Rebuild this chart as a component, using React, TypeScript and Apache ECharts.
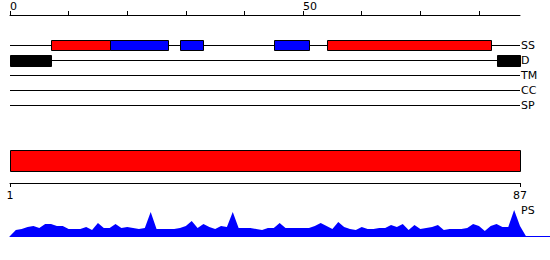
import React, { useEffect, useRef } from "react";
import * as echarts from "echarts";

const seqLength = 87;
const trackNames = ["SS", "D", "TM", "CC", "SP"];
const helixRanges = [[7, 17], [54, 82]];
const strandRanges = [[17, 27], [29, 33], [45, 51]];
const disorderRanges = [[0, 7], [83, 87]];
const topTickValues = [0, 10, 20, 30, 40, 50, 60, 70, 80];
const topLabelValues = [0, 50];
const bottomLabelValues = [1, 87];
const psScores = [
  0, 6, 7, 9, 10, 8, 12, 12, 10, 10, 7, 7, 7, 9, 6, 13, 8, 8, 12, 8,
  9, 8, 7, 8, 24, 7, 7, 7, 7, 8, 10, 15, 8, 12, 9, 7, 10, 9, 24, 8,
  8, 8, 7, 6, 8, 8, 13, 8, 8, 8, 8, 8, 10, 13, 10, 7, 14, 9, 7, 6,
  9, 7, 7, 8, 8, 11, 9, 12, 6, 11, 7, 8, 9, 11, 6, 7, 7, 7, 8, 12,
  10, 5, 10, 12, 9, 9, 26, 10, 0,
];

const FONT = "DejaVu Sans";
const RED = "#ff0000";
const BLUE = "#0000ff";

export default function App() {
  const ref = useRef<HTMLDivElement>(null);
  useEffect(() => {
    if (!ref.current) return;
    const chart = echarts.init(ref.current, undefined, { renderer: "svg" });

    const featureData: any[] = [];
    helixRanges.forEach(([a, b]) => featureData.push({ value: [a, b, 0, 0], itemStyle: { color: RED } }));
    strandRanges.forEach(([a, b]) => featureData.push({ value: [a, b, 0, 0], itemStyle: { color: BLUE } }));
    disorderRanges.forEach(([a, b]) => featureData.push({ value: [a, b, 1, 1], itemStyle: { color: "#000" } }));

    const trackLineData = trackNames.map((_, i) => [0, seqLength, i]);
    const psData = psScores.map((v, i) => [i, v]);
    const psMax = (540 * seqLength) / 510;

    const option: any = {
      animation: false,
      grid: [
        { left: 10, right: 30, top: 37.5, height: 75 },
        { left: 10, right: 30, top: 150, height: 33 },
        { left: 10, right: 0, top: 206, height: 30 },
      ],
      xAxis: [
        {
          gridIndex: 0,
          type: "value",
          min: 0,
          max: seqLength,
          position: "top",
          offset: 22.5,
          axisLine: { show: true, lineStyle: { color: "#000", width: 1 } },
          axisTick: { show: true, length: 4, customValues: topTickValues, lineStyle: { color: "#000" } },
          axisLabel: {
            show: true,
            customValues: topLabelValues,
            align: "left",
            margin: 3,
            fontFamily: FONT,
            fontSize: 11,
            color: "#000",
          },
          splitLine: { show: false },
        },
        {
          gridIndex: 1,
          type: "value",
          min: 1,
          max: seqLength,
          position: "bottom",
          axisLine: { show: true, lineStyle: { color: "#000", width: 1 } },
          axisTick: { show: true, length: 4, customValues: bottomLabelValues, lineStyle: { color: "#000" } },
          axisLabel: {
            show: true,
            customValues: bottomLabelValues,
            margin: 7,
            fontFamily: FONT,
            fontSize: 11,
            color: "#000",
          },
          splitLine: { show: false },
        },
        {
          gridIndex: 2,
          type: "value",
          min: 0,
          max: psMax,
          axisLine: { show: true, lineStyle: { color: BLUE, width: 1 } },
          axisTick: { show: false },
          axisLabel: { show: false },
          splitLine: { show: false },
        },
      ],
      yAxis: [
        {
          gridIndex: 0,
          type: "category",
          data: trackNames,
          inverse: true,
          position: "right",
          axisLine: { show: false },
          axisTick: { show: false },
          axisLabel: {
            show: true,
            margin: 1,
            align: "left",
            fontFamily: FONT,
            fontSize: 11,
            color: "#000",
          },
          splitLine: { show: false },
        },
        { gridIndex: 1, type: "value", min: 0, max: 1, show: false },
        { gridIndex: 2, type: "value", min: 0, max: 30, show: false },
      ],
      graphic: [
        {
          type: "text",
          left: 521,
          top: 205,
          style: { text: "PS", fontFamily: FONT, fontSize: 11, fill: "#000" },
        },
      ],
      series: [
        {
          type: "custom",
          xAxisIndex: 0,
          yAxisIndex: 0,
          data: trackLineData,
          renderItem: (params: any, api: any) => {
            const s = api.coord([api.value(0), api.value(2)]);
            const e = api.coord([api.value(1), api.value(2)]);
            const y = Math.round(s[1]) + 0.5;
            return {
              type: "line",
              shape: { x1: s[0], y1: y, x2: e[0], y2: y },
              style: { stroke: "#000", lineWidth: 1 },
            };
          },
          z: 1,
        },
        {
          type: "custom",
          xAxisIndex: 0,
          yAxisIndex: 0,
          data: featureData,
          renderItem: (params: any, api: any) => {
            const s = api.coord([api.value(0), api.value(2)]);
            const e = api.coord([api.value(1), api.value(2)]);
            const cy = Math.round(s[1]);
            const x1 = Math.round(s[0]) + 0.5;
            const x2 = Math.round(e[0]) + 0.5;
            const tall = api.value(3) === 1;
            return {
              type: "rect",
              shape: { x: x1, y: cy - 4.5, width: x2 - x1, height: tall ? 11 : 10 },
              style: { fill: api.visual("color"), stroke: "#000", lineWidth: 1 },
            };
          },
          z: 2,
        },
        {
          type: "custom",
          xAxisIndex: 1,
          yAxisIndex: 1,
          data: [[1, seqLength]],
          renderItem: (params: any, api: any) => {
            const s = api.coord([api.value(0), 1]);
            const e = api.coord([api.value(1), 1]);
            const x1 = Math.round(s[0]) + 0.5;
            const x2 = Math.round(e[0]) + 0.5;
            const top = Math.round(params.coordSys.y) + 0.5;
            return {
              type: "rect",
              shape: { x: x1, y: top, width: x2 - x1, height: 21 },
              style: { fill: RED, stroke: "#000", lineWidth: 1 },
            };
          },
        },
        {
          type: "line",
          xAxisIndex: 2,
          yAxisIndex: 2,
          data: psData,
          showSymbol: false,
          symbol: "none",
          smooth: false,
          lineStyle: { width: 0, color: BLUE },
          areaStyle: { color: BLUE, opacity: 1 },
          itemStyle: { color: BLUE },
        },
      ],
    };
    chart.setOption(option);
    return () => chart.dispose();
  }, []);
  return (
    <div
      ref={ref}
      style={{ position: "absolute", left: 0, top: 0, width: 550, height: 260 }}
    />
  );
}
